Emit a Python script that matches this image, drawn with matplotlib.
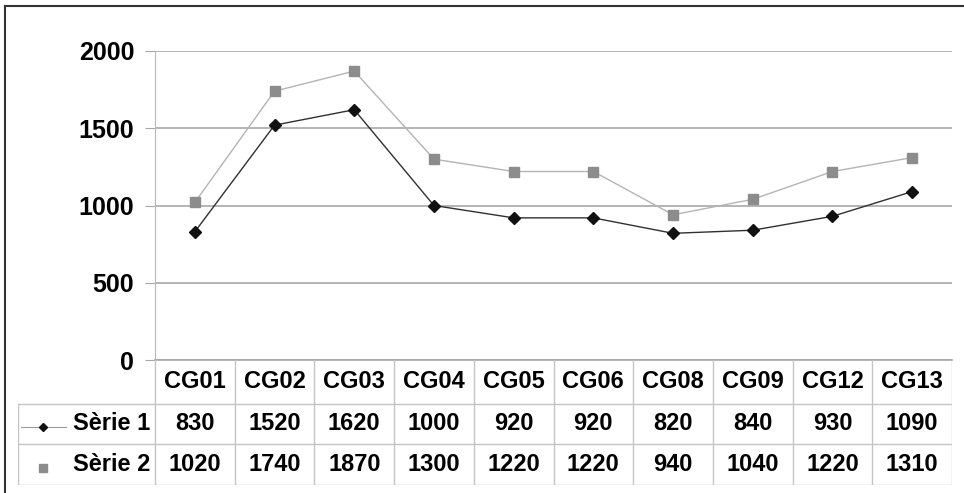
import matplotlib.pyplot as plt
from matplotlib.lines import Line2D

categories = ['CG01', 'CG02', 'CG03', 'CG04', 'CG05', 'CG06', 'CG08', 'CG09', 'CG12', 'CG13']
serie1 = [830, 1520, 1620, 1000, 920, 920, 820, 840, 930, 1090]
serie2 = [1020, 1740, 1870, 1300, 1220, 1220, 940, 1040, 1220, 1310]
series_names = ['Sèrie 1', 'Sèrie 2']
yticks = [0, 500, 1000, 1500, 2000]

plt.rcParams['font.family'] = ['Liberation Sans', 'DejaVu Sans']
plt.rcParams['font.weight'] = 'bold'

W, H = 964, 493
fig = plt.figure(figsize=(W / 100, H / 100), dpi=100)


def fx(px):
    return px / W


def fy(py):
    return 1 - py / H


# pixel layout
left, right = 155, 952
top, bottom = 51, 360
tab_left, tab_bottom = 18, 485
row_edges = [360, 404, 444, 485]
fs_tick = 18
fs_tab = 17

ax = fig.add_axes([fx(left), fy(bottom), fx(right) - fx(left), fy(top) - fy(bottom)])
x = list(range(len(categories)))
ax.plot(x, serie2, color='#b4b4b4', lw=1.0, marker='s', ms=7, mfc='#8c8c8c', mec='#8c8c8c', zorder=3)
ax.plot(x, serie1, color='#303030', lw=1.0, marker='D', ms=6, mfc='#111111', mec='#111111', zorder=4)
ax.set_xlim(-0.5, len(categories) - 0.5)
ax.set_ylim(0, 2000)
ax.set_yticks(yticks)
ax.set_yticklabels([str(v) for v in yticks], fontsize=fs_tick, fontweight='bold')
ax.set_xticks([])
ax.grid(axis='y', color='#a8a8a8', lw=1.2)
ax.tick_params(axis='y', length=7, color='#a8a8a8', pad=8)
for s in ['top', 'right']:
    ax.spines[s].set_visible(False)
ax.spines['left'].set_color('#b8b8b8')
ax.spines['bottom'].set_color('#a8a8a8')
ax.spines['bottom'].set_linewidth(1.2)
ax.set_axisbelow(True)

# data table below, same category scale
unit = (right - left) / len(categories)
tx = fig.add_axes([fx(tab_left), fy(tab_bottom), fx(right) - fx(tab_left), fy(bottom) - fy(tab_bottom)])
tx.set_xlim(-0.5 - (left - tab_left) / unit, len(categories) - 0.5)
tx.set_ylim(tab_bottom, bottom)
tx.axis('off')

lc = '#c4c4c4'
x0 = -0.5 - (left - tab_left) / unit
xend = len(categories) - 0.5
# horizontal lines
for r in row_edges[1:]:
    tx.plot([x0, xend], [r, r], color=lc, lw=1)
# vertical lines
tx.plot([x0, x0], [row_edges[1], row_edges[3]], color=lc, lw=1)
for i in range(len(categories) + 1):
    xv = i - 0.5
    tx.plot([xv, xv], [row_edges[0], row_edges[3]], color=lc, lw=1)

mids = [(row_edges[i] + row_edges[i + 1]) / 2 for i in range(3)]
for i, c in enumerate(categories):
    tx.text(i, mids[0], c, ha='center', va='center', fontsize=fs_tab, fontweight='bold')
    tx.text(i, mids[1], str(serie1[i]), ha='center', va='center', fontsize=fs_tab, fontweight='bold')
    tx.text(i, mids[2], str(serie2[i]), ha='center', va='center', fontsize=fs_tab, fontweight='bold')

lab_x = -0.5 - 5 / unit
tx.text(lab_x, mids[1], series_names[0], ha='right', va='center', fontsize=fs_tab, fontweight='bold')
tx.text(lab_x, mids[2], series_names[1], ha='right', va='center', fontsize=fs_tab, fontweight='bold')

# legend keys
kx = x0 + 25 / unit
tx.plot([x0 + 3 / unit, x0 + 48 / unit], [mids[1] + 3] * 2, color='#9a9a9a', lw=0.8)
tx.plot([kx], [mids[1] + 3], marker='D', ms=4.5, color='#111111')
tx.plot([kx], [mids[2] + 3], marker='s', ms=6, color='#8c8c8c')

# outer frame (top and left border)
fig.add_artist(Line2D([fx(5), fx(W)], [fy(6), fy(6)], color='#333333', lw=1.5))
fig.add_artist(Line2D([fx(5), fx(5)], [fy(6), fy(H)], color='#333333', lw=1.5))

fig.savefig('out.png', dpi=100)
